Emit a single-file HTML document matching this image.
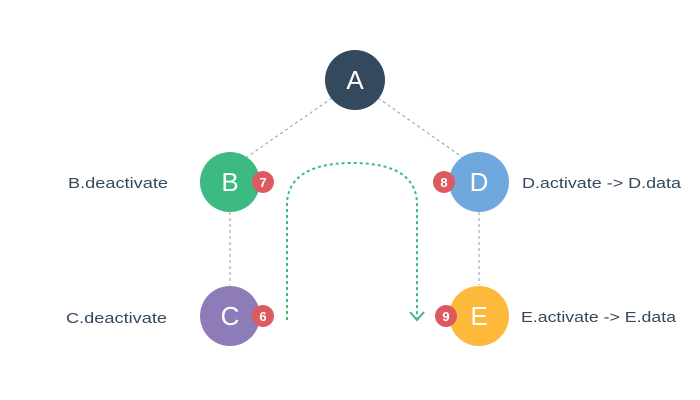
<!DOCTYPE html>
<html><head><meta charset="utf-8"><style>
html,body{margin:0;padding:0;background:#fff;}
svg{display:block;}
</style></head><body>
<svg width="700" height="400" viewBox="0 0 700 400" xmlns="http://www.w3.org/2000/svg" font-family="Liberation Sans, sans-serif">
<g stroke="#999" stroke-width="1" stroke-dasharray="3,3" fill="none">
<line x1="332" y1="98" x2="247" y2="157"/>
<line x1="378" y1="98" x2="462" y2="157"/>
<line x1="230" y1="212" x2="230" y2="285"/>
<line x1="479" y1="212" x2="479" y2="285"/>
</g>
<path d="M287 320 L287 205 C287 176 312 163 352 163 C394 163 417 176 417 205 L417 318" fill="none" stroke="#3dba82" stroke-width="2" stroke-dasharray="3,3"/>
<polyline points="410,312 417,320 424,312" fill="none" stroke="#3dba82" stroke-width="2"/>
<circle cx="355" cy="80" r="30" fill="#34495e"/>
<circle cx="230" cy="182" r="30" fill="#3dba82"/>
<circle cx="479" cy="182" r="30" fill="#6fa8dc"/>
<circle cx="230" cy="316" r="30" fill="#8e7cb9"/>
<circle cx="479" cy="316" r="30" fill="#fdb93c"/>
<g fill="#fff" font-size="26" text-anchor="middle">
<text x="355" y="89">A</text>
<text x="230" y="191">B</text>
<text x="479" y="191">D</text>
<text x="230" y="325">C</text>
<text x="479" y="325">E</text>
</g>
<g fill="#dc5a60">
<circle cx="263" cy="182" r="11"/>
<circle cx="263" cy="316" r="11"/>
<circle cx="444" cy="182" r="11"/>
<circle cx="446" cy="316" r="11"/>
</g>
<g fill="#fff" font-size="13" font-weight="bold" text-anchor="middle">
<text x="263" y="187">7</text>
<text x="263" y="321">6</text>
<text x="444" y="187">8</text>
<text x="446" y="321">9</text>
</g>
<g fill="#34495e" font-size="15">
<text x="68" y="188" textLength="100" lengthAdjust="spacingAndGlyphs">B.deactivate</text>
<text x="66" y="323" textLength="101" lengthAdjust="spacingAndGlyphs">C.deactivate</text>
<text x="522" y="188" textLength="159" lengthAdjust="spacingAndGlyphs">D.activate -&gt; D.data</text>
<text x="521" y="322" textLength="155" lengthAdjust="spacingAndGlyphs">E.activate -&gt; E.data</text>
</g>
</svg>
</body></html>
